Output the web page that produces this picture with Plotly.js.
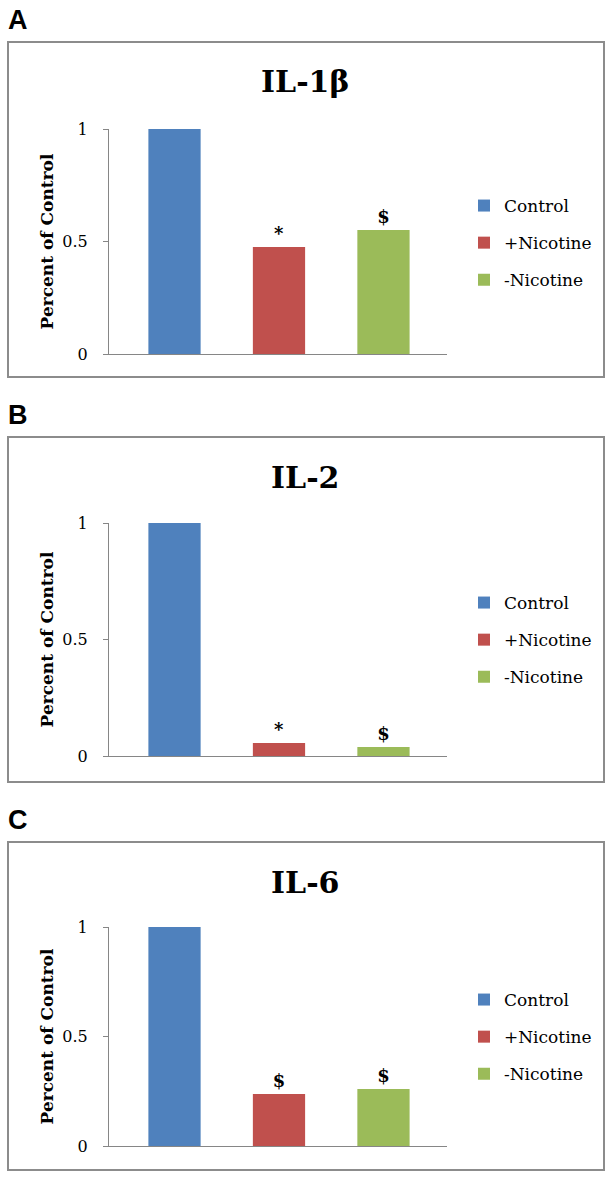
<!DOCTYPE html>
<html>
<head>
<meta charset="utf-8">
<script src="https://cdn.plot.ly/plotly-3.0.1.min.js"></script>
<style>
  html, body { margin: 0; padding: 0; background: #fff; }
  #chart { width: 611px; height: 1177px; }
</style>
</head>
<body>
<div id="chart"></div>
<script>
// data
var categories = ['Control', '+Nicotine', '-Nicotine'];
var barColors = ['#4F81BD', '#C0504D', '#9BBB59'];

var il1bValues = [1, 0.476, 0.551];
var il2Values = [1, 0.056, 0.039];
var il6Values = [1, 0.237, 0.26];

var il1bMarks = ['', '*', '$'];
var il2Marks = ['', '*', '$'];
var il6Marks = ['', '$', '$'];

var panelTitles = ['IL-1β', 'IL-2', 'IL-6'];
var panelLetters = ['A', 'B', 'C'];
var yTickVals = [0, 0.5, 1];
var yTickText = ['0', '0.5', '1'];

var W = 611, H = 1177;
function fx(px) { return px / W; }
function fy(py) { return 1 - py / H; }

var serif = 'DejaVu Serif';
var axisGrey = '#868686';

// pixel geometry of each panel
var panels = [
  { values: il1bValues, marks: il1bMarks, box: [42, 377], y0: 354, y1: 129, title: 81, letter: 20, legend: 243 },
  { values: il2Values, marks: il2Marks, box: [437, 782], y0: 756, y1: 523, title: 477, letter: 415, legend: 640 },
  { values: il6Values, marks: il6Marks, box: [842, 1170], y0: 1146, y1: 927, title: 882, letter: 820, legend: 1037 }
];

var data = [];
var layout = {
  width: W,
  height: H,
  margin: { l: 0, r: 0, t: 0, b: 0 },
  font: { family: serif, color: '#000' },
  paper_bgcolor: '#fff',
  plot_bgcolor: '#fff',
  barmode: 'overlay',
  showlegend: true,
  annotations: [],
  shapes: []
};

panels.forEach(function (p, k) {
  var n = k === 0 ? '' : String(k + 1);
  var legName = 'legend' + n;

  categories.forEach(function (cat, i) {
    data.push({
      type: 'bar',
      x: [cat],
      y: [p.values[i]],
      name: cat,
      width: 0.5,
      marker: { color: barColors[i] },
      text: [p.marks[i]],
      textposition: 'outside',
      constraintext: 'none',
      cliponaxis: false,
      textfont: { family: serif, size: 18, color: '#000', weight: 'bold' },
      xaxis: 'x' + n,
      yaxis: 'y' + n,
      legend: legName,
      legendgroup: 'g' + k + '_' + i,
      hoverinfo: 'x+y'
    });
  });

  layout['xaxis' + n] = {
    domain: [fx(109), fx(447)],
    anchor: 'y' + n,
    type: 'category',
    range: [-0.627, 2.608],
    showticklabels: false,
    ticks: '',
    showgrid: false,
    zeroline: false,
    showline: true,
    linecolor: axisGrey,
    linewidth: 1,
    fixedrange: true
  };

  layout['yaxis' + n] = {
    domain: [fy(p.y0), fy(p.y1)],
    anchor: 'x' + n,
    range: [0, 1],
    tickvals: yTickVals,
    ticktext: yTickText,
    ticks: 'outside',
    ticklen: 5,
    tickcolor: axisGrey,
    ticklabelstandoff: 12,
    tickfont: { family: serif, size: 16, color: '#000' },
    showgrid: false,
    zeroline: false,
    showline: true,
    linecolor: axisGrey,
    linewidth: 1,
    fixedrange: true,
    title: {
      text: 'Percent of Control',
      font: { family: serif, size: 17, color: '#000', weight: 'bold' },
      standoff: 4
    }
  };

  layout[legName] = {
    x: fx(464),
    xanchor: 'left',
    y: fy(p.legend),
    yanchor: 'middle',
    traceorder: 'grouped',
    tracegroupgap: 12,
    bgcolor: 'rgba(0,0,0,0)',
    font: { family: serif, size: 17, color: '#000' }
  };

  // panel frame
  layout.shapes.push({
    type: 'rect', xref: 'paper', yref: 'paper',
    x0: fx(8), x1: fx(604), y0: fy(p.box[1]), y1: fy(p.box[0]),
    line: { color: '#8c8c8c', width: 2 }
  });

  // chart title
  layout.annotations.push({
    xref: 'paper', yref: 'paper', x: fx(305), y: fy(p.title),
    xanchor: 'center', yanchor: 'middle', showarrow: false,
    text: panelTitles[k],
    font: { family: serif, size: 30, color: '#000', weight: 'bold' }
  });

  // panel letter
  layout.annotations.push({
    xref: 'paper', yref: 'paper', x: fx(6), y: fy(p.letter),
    xanchor: 'left', yanchor: 'middle', showarrow: false,
    text: panelLetters[k],
    font: { family: 'Liberation Sans', size: 27, color: '#000', weight: 'bold' }
  });
});

Plotly.newPlot('chart', data, layout, { displayModeBar: false, staticPlot: true });
</script>
</body>
</html>
